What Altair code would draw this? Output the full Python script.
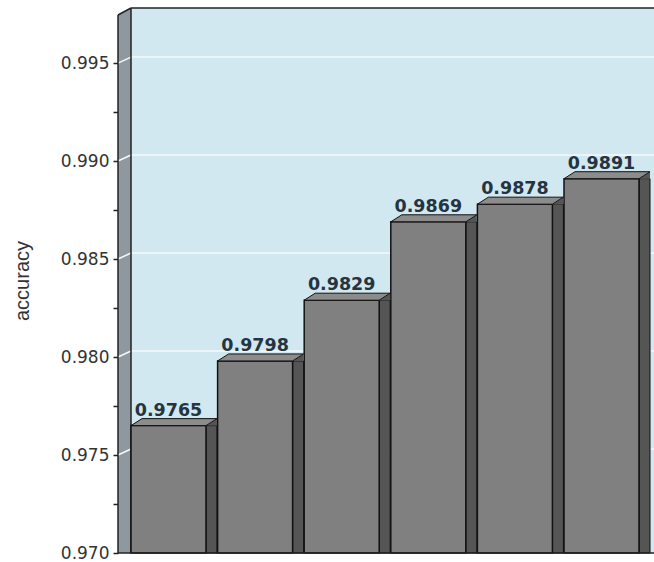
import altair as alt
import pandas as pd

# ---- data ----
categories = ["1", "2", "3", "4", "5", "6"]
accuracy = [0.9765, 0.9798, 0.9829, 0.9869, 0.9878, 0.9891]
major_ticks = [0.970, 0.975, 0.980, 0.985, 0.990, 0.995]
all_ticks = [0.970, 0.9725, 0.975, 0.9775, 0.980, 0.9825, 0.985, 0.9875,
             0.990, 0.9925, 0.995]
y_min, y_max = 0.970, 0.99781
axis_top = 0.99745

# ---- layout / style constants ----
W, H = 536, 545
WALL = 13
STEP = 86.6
FRONT = 75
SIDE = 11

bars = pd.DataFrame({"cat": categories, "acc": accuracy})
grid = pd.DataFrame({"acc": major_ticks[1:]})
one = pd.DataFrame({"a": [0]})

yscale = alt.Scale(domain=[y_min, y_max], zero=False, nice=False)
xscale = alt.Scale(domain=categories, range=[WALL, WALL + 6 * STEP],
                   paddingInner=0, paddingOuter=0)

yaxis = alt.Axis(values=all_ticks,
                 labelExpr="round(datum.value*400) % 2 == 0 ? format(datum.value, '.3f') : ''",
                 tickSize=5, labelPadding=4, domain=False, grid=False,
                 labelFont="DejaVu Sans", labelFontSize=17, labelColor="#333333",
                 tickColor="#222222", tickWidth=1.5,
                 title="accuracy", titleFont="Liberation Sans", titleFontSize=20,
                 titleFontWeight="normal", titleColor="#333333",
                 titleX=-86, titleY=H / 2, titleAngle=-90,
                 titleBaseline="bottom", titleAlign="center")

def Y(field="acc"):
    return alt.Y(f"{field}:Q", scale=yscale, title="accuracy")

wall = alt.Chart(one).mark_rect(color="#8e989e").encode(
    x=alt.value(0), x2=alt.value(WALL), y=alt.value(0), y2=alt.value(H))

wall_corner = alt.Chart(one).mark_point(
    shape="M -1 -0.538 L 1 -0.538 L -1 0.538 Z", size=169, filled=True,
    color="white", opacity=1).encode(x=alt.value(6.5), y=alt.value(3.5))

wall_top_edge = alt.Chart(one).mark_point(
    shape="M -1 0.538 L 1 -0.538", size=169, filled=False,
    stroke="#222222", strokeWidth=1.5, opacity=1).encode(
    x=alt.value(6.5), y=alt.value(3.5))

grid_lines = alt.Chart(grid).mark_rule(color="#f4fafc", strokeWidth=1.5, yOffset=-6).encode(
    y=Y(), x=alt.value(WALL), x2=alt.value(W))

grid_diag = alt.Chart(grid).mark_point(
    shape="M -1 0.4615 L 1 -0.4615", size=169, filled=False,
    stroke="#f4fafc", strokeWidth=1.5, opacity=1, yOffset=-3).encode(
    y=Y(), x=alt.value(6.5))

back_top = alt.Chart(one).mark_rule(color="#222222", strokeWidth=1.5).encode(
    x=alt.value(WALL), x2=alt.value(W), y=alt.value(0))
back_left = alt.Chart(one).mark_rule(color="#222222", strokeWidth=1.5).encode(
    x=alt.value(WALL), y=alt.value(0), y2=alt.value(H))

xenc = alt.X("cat:N", scale=xscale, axis=None)

side = alt.Chart(bars).mark_bar(
    width=SIDE, xOffset=FRONT + SIDE / 2 - STEP / 2, color="#555555",
    stroke="#111111", strokeWidth=1).encode(
    x=xenc, y=Y(), y2=alt.datum(y_min))

front = alt.Chart(bars).mark_bar(
    width=FRONT, xOffset=FRONT / 2 - STEP / 2, color="#808080",
    stroke="#111111", strokeWidth=1.5).encode(
    x=xenc, y=alt.Y("acc:Q", scale=yscale, axis=yaxis), y2=alt.datum(y_min))

side_tri = alt.Chart(bars).mark_point(
    shape="M 0.744 0.0814 L 1 -0.0814 L 1 0.0814 Z", size=(FRONT + SIDE) ** 2,
    filled=True, color="#555555", opacity=1,
    xOffset=(FRONT + SIDE) / 2 - STEP / 2, yOffset=-3.5).encode(
    x=xenc, y=Y())

top_face = alt.Chart(bars).mark_point(
    shape="M -1 0.0814 L 0.744 0.0814 L 1 -0.0814 L -0.744 -0.0814 Z",
    size=(FRONT + SIDE) ** 2, filled=True, fill="#8c8c8c", stroke="#111111",
    strokeWidth=1, opacity=1,
    xOffset=(FRONT + SIDE) / 2 - STEP / 2, yOffset=-3.5).encode(
    x=xenc, y=Y())

labels = alt.Chart(bars).mark_text(
    font="DejaVu Sans", fontWeight="bold", fontSize=17.5, color="#25343e",
    baseline="alphabetic", dy=-10, xOffset=FRONT / 2 - STEP / 2).encode(
    x=xenc, y=Y(), text=alt.Text("acc:Q", format=".4f"))

axis_line = alt.Chart(one).mark_rule(color="#222222", strokeWidth=1.5).encode(
    x=alt.value(0), y=alt.datum(y_min), y2=alt.datum(axis_top))

floor = alt.Chart(one).mark_rule(color="#222222", strokeWidth=1.5).encode(
    x=alt.value(0), x2=alt.value(W), y=alt.value(H))

chart = alt.layer(
    wall, wall_corner, wall_top_edge, grid_lines, grid_diag, back_top, back_left,
    side, front, side_tri, top_face, labels, axis_line, floor
).properties(
    width=W, height=H,
    padding={"left": 118, "top": 8, "right": 0, "bottom": 9},
    autosize=alt.AutoSizeParams(type="none"),
    background="white",
).configure_view(stroke=None, fill="#d2e8f0")

chart.save("out.html", embed_options={"renderer": "svg", "actions": False})
